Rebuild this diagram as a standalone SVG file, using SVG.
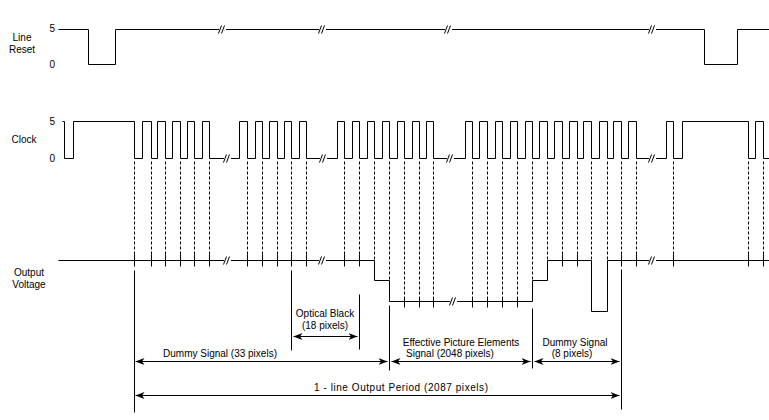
<svg xmlns="http://www.w3.org/2000/svg" xmlns:xlink="http://www.w3.org/1999/xlink" width="769" height="420" viewBox="0 0 769 420">
<style>
text{font-family:"Liberation Sans",Arial,sans-serif;font-size:10px;fill:#000}
.mid{text-anchor:middle}
.end{text-anchor:end}
.w{fill:none;stroke:#000;stroke-width:1}
.d{fill:none;stroke:#000;stroke-width:1;stroke-dasharray:3 2}
.t{stroke:#000;stroke-width:1}
.a{stroke:#000;stroke-width:1;marker-start:url(#ah);marker-end:url(#ah)}
</style>
<defs>
<marker id="ah" viewBox="0 0 9 7" refX="9" refY="3.5" markerWidth="9" markerHeight="7" markerUnits="userSpaceOnUse" orient="auto-start-reverse">
<path d="M0,0 L9,3.5 L0,7 L2.5,3.5 z" fill="#000"/>
</marker>
<g id="brk"><rect x="-3.5" y="-2" width="7" height="4" fill="#fff"/><path d="M-4,4 L-1,-4 M-1,4 L2,-4" stroke="#000" stroke-width="1" fill="none"/></g>
</defs>
<rect width="769" height="420" fill="#fff"/>

<g id="labels">
<text class="mid" x="22" y="41">Line</text>
<text class="mid" x="22" y="53">Reset</text>
<text class="end" x="55" y="32">5</text>
<text class="end" x="55" y="68">0</text>
<text class="mid" x="24" y="143">Clock</text>
<text class="end" x="55" y="125">5</text>
<text class="end" x="55" y="162">0</text>
<text class="mid" x="29" y="276">Output</text>
<text class="mid" x="29" y="288">Voltage</text>
</g>

<g transform="translate(0.5,0.5)">
<g id="line-reset">
<path class="w" d="M58,29 H88 V64 H115 V29 H704 V64 H737 V29 H769"/>
<use xlink:href="#brk" x="222" y="29"/>
<use xlink:href="#brk" x="322" y="29"/>
<use xlink:href="#brk" x="448" y="29"/>
<use xlink:href="#brk" x="652" y="29"/>
</g>

<g id="clock">
<path class="w" d="M62,121 H64 V158 H73 V121 H134 V158 H142 V121 H151 V158 H157 V121 H165 V158 H172 V121 H180 V158 H187 V121 H194 V158 H202 V121 H209 V158 H239 V121 H247 V158 H255 V121 H262 V158 H269 V121 H277 V158 H284 V121 H291 V158 H299 V121 H306 V158 H337 V121 H344 V158 H352 V121 H359 V158 H367 V121 H374 V158 H382 V121 H389 V158 H397 V121 H404 V158 H412 V121 H419 V158 H426 V121 H433 V158 H465 V121 H472 V158 H479 V121 H487 V158 H495 V121 H502 V158 H510 V121 H517 V158 H525 V121 H532 V158 H539 V121 H547 V158 H554 V121 H562 V158 H569 V121 H577 V158 H583 V121 H591 V158 H599 V121 H607 V158 H613 V121 H621 V158 H628 V121 H636 V158 H666 V121 H673 V158 H682 V121 H748 V158 H755 V121 H763 V158 H769"/>
<use xlink:href="#brk" x="227" y="158"/>
<use xlink:href="#brk" x="323" y="158"/>
<use xlink:href="#brk" x="450" y="158"/>
<use xlink:href="#brk" x="652" y="158"/>
</g>

<g id="sample-lines">
<path class="d" d="M134,161 V254 M151,161 V254 M165,161 V254 M180,161 V254 M194,161 V254 M209,161 V254 M247,161 V254 M262,161 V254 M277,161 V254 M291,161 V254 M306,161 V254 M344,161 V254 M359,161 V254 M562,161 V254 M577,161 V254 M621,161 V254 M636,161 V254 M673,161 V254 M748,161 V254 M763,161 V254"/>
<path class="d" d="M374,161 V260 M389,161 V280 M532,161 V280 M547,161 V260 M591,161 V260 M607,161 V260"/>
<path class="d" d="M404,161 V296 M419,161 V296 M433,161 V296 M472,161 V296 M487,161 V296 M502,161 V296 M517,161 V296"/>
</g>

<g id="output-voltage">
<path class="w" d="M58,260 H374 V280 H389 V301 H532 V280 H547 V260 H591 V311 H607 V260 H769"/>
<path class="t" d="M134,254 V266 M151,254 V266 M165,254 V266 M180,254 V266 M194,254 V266 M209,254 V266 M247,254 V266 M262,254 V266 M277,254 V266 M291,254 V266 M306,254 V266 M344,254 V266 M359,254 V266 M562,254 V266 M577,254 V266 M621,254 V266 M636,254 V266 M673,254 V266 M748,254 V266 M763,254 V266"/>
<path class="t" d="M404,296 V307 M419,296 V307 M433,296 V307 M472,296 V307 M487,296 V307 M502,296 V307 M517,296 V307"/>
<use xlink:href="#brk" x="227" y="260"/>
<use xlink:href="#brk" x="322" y="260"/>
<use xlink:href="#brk" x="453" y="301"/>
<use xlink:href="#brk" x="652" y="260"/>
</g>

<g id="connectors">
<path class="t" d="M134,270 V412 M291,270 V350 M359,294 V349 M389,305 V370 M532,308 V368 M621,269 V409"/>
<line class="a" x1="293" y1="336" x2="357" y2="336"/>
<line class="a" x1="135" y1="361" x2="387" y2="361"/>
<line class="a" x1="391" y1="361" x2="530" y2="361"/>
<line class="a" x1="534" y1="361" x2="619" y2="361"/>
<line class="a" x1="135" y1="395" x2="619" y2="395"/>
</g>
</g>

<g id="annotations">
<text class="mid" x="325" y="317">Optical Black</text>
<text class="mid" x="325" y="329">(18 pixels)</text>
<text class="mid" x="220" y="357">Dummy Signal (33 pixels)</text>
<text class="mid" x="461" y="346">Effective Picture Elements</text>
<text class="mid" x="450" y="357">Signal (2048 pixels)</text>
<text class="mid" x="575" y="346">Dummy Signal</text>
<text class="mid" x="572" y="357">(8 pixels)</text>
<text class="mid" x="401" y="391" textLength="174" lengthAdjust="spacing">1 - line Output Period (2087 pixels)</text>
</g>
</svg>
